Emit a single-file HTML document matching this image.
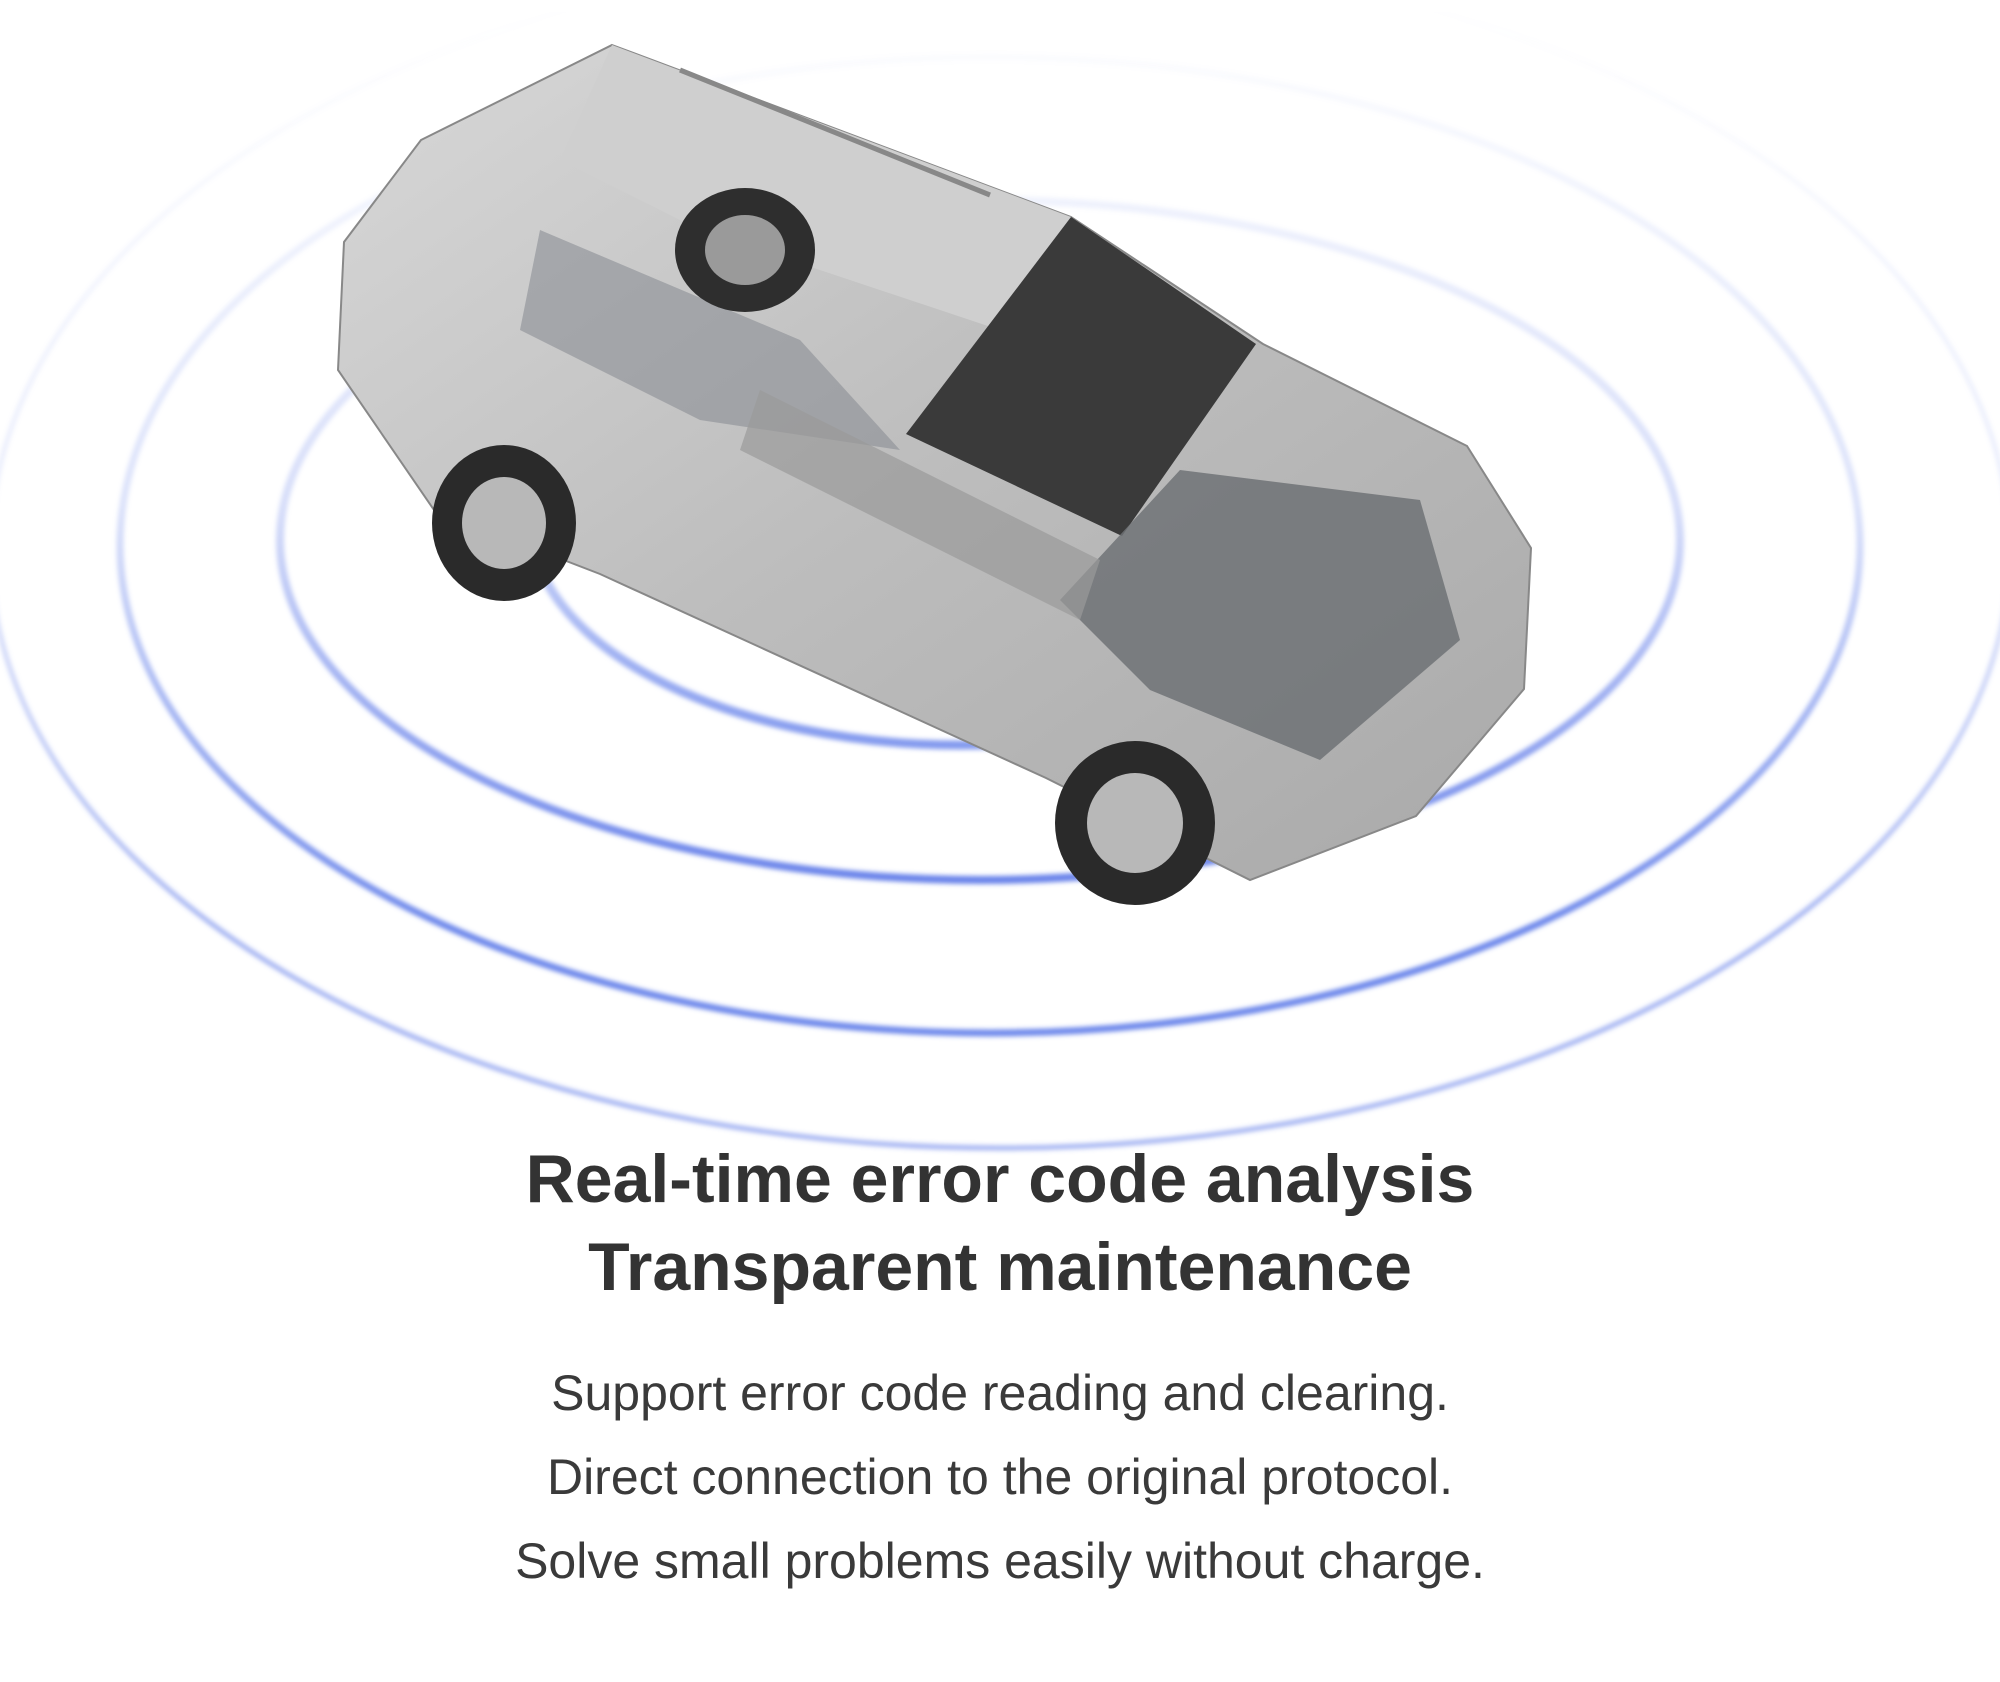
<!DOCTYPE html>
<html><head><meta charset="utf-8"><style>
html,body{margin:0;padding:0;background:#fff;}
body{width:2000px;height:1682px;position:relative;overflow:hidden;font-family:"Liberation Sans",sans-serif;color:#333;}
.h{position:absolute;left:0;width:2000px;text-align:center;font-weight:bold;font-size:68px;letter-spacing:0px;color:#333;}
.p{position:absolute;left:0;width:2000px;text-align:center;font-size:50px;letter-spacing:0px;color:#3a3a3a;}
</style></head><body>
<svg width="2000" height="1682" style="position:absolute;left:0;top:0">
<defs>
<linearGradient id="fade" x1="0" y1="0" x2="0" y2="1">
<stop offset="0" stop-color="#fff" stop-opacity="0"/>
<stop offset="0.3" stop-color="#fff" stop-opacity="0.25"/>
<stop offset="0.55" stop-color="#fff" stop-opacity="1"/>
</linearGradient>
<mask id="m"><rect width="2000" height="1682" fill="url(#fade)"/></mask>
<filter id="b"><feGaussianBlur stdDeviation="2.5"/></filter>
<linearGradient id="body" x1="0" y1="0" x2="1" y2="1">
<stop offset="0" stop-color="#d8d8d8"/><stop offset="0.5" stop-color="#bdbdbd"/><stop offset="1" stop-color="#a9a9a9"/>
</linearGradient>
</defs>
<g mask="url(#m)" filter="url(#b)" fill="none" stroke="#4a6ae6">
<ellipse cx="960" cy="520" rx="430" ry="225" stroke-width="9"/>
<ellipse cx="980" cy="540" rx="700" ry="340" stroke-width="8" opacity="0.9"/>
<ellipse cx="990" cy="545" rx="870" ry="488" stroke-width="7" opacity="0.8"/>
<ellipse cx="1000" cy="550" rx="1010" ry="598" stroke-width="5" opacity="0.5"/>
</g>
<g>
<polygon points="612,45 1071,217 1263,344 1467,446 1531,548 1524,689 1416,816 1250,880 1046,778 600,574 434,510 338,370 344,242 421,140" fill="url(#body)" stroke="#888" stroke-width="2"/>
<polygon points="612,45 1071,217 1000,330 700,230 560,160" fill="#cfcfcf"/>
<polygon points="1071,217 1256,344 1122,536 906,434" fill="#3a3a3a"/>
<polygon points="540,230 800,340 900,450 700,420 520,330" fill="#8a8e94" opacity="0.6"/>
<polygon points="1180,470 1420,500 1460,640 1320,760 1150,690 1060,600" fill="#6f7276" opacity="0.85"/>
<polygon points="760,390 1100,560 1080,620 740,450" fill="#9a9a9a" opacity="0.7"/>
<ellipse cx="504" cy="523" rx="72" ry="78" fill="#2a2a2a"/>
<ellipse cx="504" cy="523" rx="42" ry="46" fill="#b8b8b8"/>
<ellipse cx="1135" cy="823" rx="80" ry="82" fill="#2a2a2a"/>
<ellipse cx="1135" cy="823" rx="48" ry="50" fill="#b8b8b8"/>
<ellipse cx="745" cy="250" rx="70" ry="62" fill="#2e2e2e"/>
<ellipse cx="745" cy="250" rx="40" ry="35" fill="#9a9a9a"/>
<line x1="680" y1="70" x2="990" y2="195" stroke="#888" stroke-width="5"/>
</g>
</svg>
<div class="h" style="top:1140px;">Real-time error code analysis</div>
<div class="h" style="top:1228px;">Transparent maintenance</div>
<div class="p" style="top:1364px;">Support error code reading and clearing.</div>
<div class="p" style="top:1448px;">Direct connection to the original protocol.</div>
<div class="p" style="top:1532px;">Solve small problems easily without charge.</div>
</body></html>
